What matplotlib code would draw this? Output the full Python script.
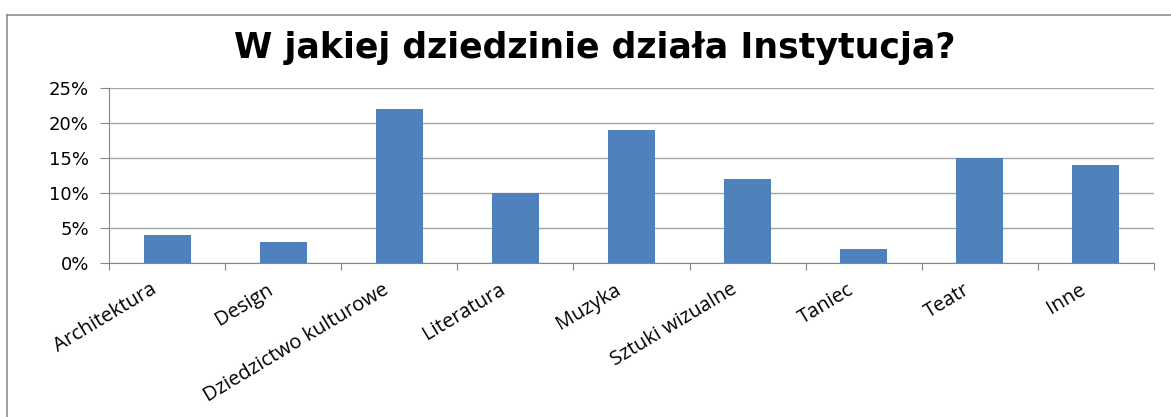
import matplotlib
matplotlib.use("Agg")
import matplotlib.pyplot as plt
from matplotlib.lines import Line2D
from matplotlib.ticker import FuncFormatter, FixedLocator
from matplotlib.transforms import ScaledTranslation

# data
categories = ["Architektura", "Design", "Dziedzictwo kulturowe", "Literatura",
              "Muzyka", "Sztuki wizualne", "Taniec", "Teatr", "Inne"]
values = [4, 3, 22, 10, 19, 12, 2, 15, 14]
title = "W jakiej dziedzinie działa Instytucja?"

W, H = 1171, 417
fig = plt.figure(figsize=(W / 100, H / 100), dpi=100)
ax = fig.add_axes([109 / W, 1 - 263 / H, (1154 - 109) / W, (263 - 87.7) / H])

x = range(len(categories))
ax.bar(x, values, width=0.405, color="#4f81bd", zorder=3)

ax.set_xlim(-0.5, len(categories) - 0.5)
ax.set_ylim(0, 25)
ax.set_yticks([0, 5, 10, 15, 20, 25])
ax.yaxis.set_major_formatter(FuncFormatter(lambda v, p: f"{int(v)}%"))
ax.grid(axis="y", color="#a5a5a5", linewidth=1, zorder=0)

# ticks on category boundaries, labels on centres
ax.xaxis.set_major_locator(FixedLocator([i - 0.5 for i in range(len(categories) + 1)]))
ax.xaxis.set_minor_locator(FixedLocator(list(x)))
ax.set_xticklabels([])
ax.set_xticklabels(categories, minor=True, rotation=31, ha="right", va="top",
                   rotation_mode="anchor", family="Open Sans", fontsize=14.5)
ax.tick_params(axis="x", which="minor", length=0, pad=12)
ax.tick_params(axis="x", which="major", length=5, color="#868686", direction="out")
ax.tick_params(axis="y", length=6.5, color="#868686", labelsize=13, pad=8)
shift = ScaledTranslation(-17 / 100, 0, fig.dpi_scale_trans)
for lab in ax.get_xticklabels(minor=True):
    lab.set_transform(lab.get_transform() + shift)
for lab in ax.get_yticklabels():
    lab.set_family("DejaVu Sans")

for s in ["top", "right"]:
    ax.spines[s].set_visible(False)
ax.spines["left"].set_color("#868686")
ax.spines["bottom"].set_color("#868686")

fig.text(595 / W, 1 - 48 / H, title, ha="center", va="center",
         fontsize=25, fontweight="bold", family="DejaVu Sans")

# outer chart frame (cropped at right and bottom)
fig.add_artist(Line2D([7 / W, 7 / W], [0, 1 - 15 / H], color="#8c8c8c", lw=1.2))
fig.add_artist(Line2D([7 / W, 1], [1 - 15 / H, 1 - 15 / H], color="#8c8c8c", lw=1.2))

fig.savefig("out.png", dpi=100)
